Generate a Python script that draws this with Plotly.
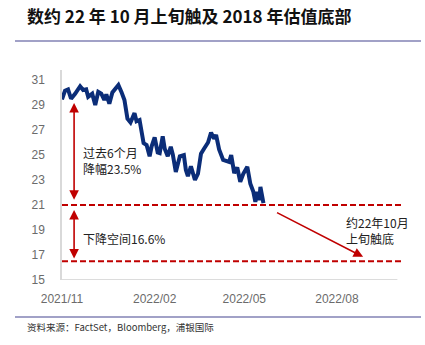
import plotly.graph_objects as go

# Valuation series (Nov 2021 - May 2022)
dates = [
    "2021-11-01", "2021-11-04", "2021-11-07", "2021-11-10", "2021-11-14", "2021-11-19",
    "2021-11-22", "2021-11-25", "2021-11-27", "2021-12-01", "2021-12-04", "2021-12-07",
    "2021-12-10", "2021-12-13", "2021-12-15", "2021-12-18", "2021-12-21", "2021-12-27",
    "2021-12-30", "2022-01-02", "2022-01-05", "2022-01-08", "2022-01-12", "2022-01-14",
    "2022-01-17", "2022-01-21", "2022-01-24", "2022-01-27", "2022-01-29", "2022-02-01",
    "2022-02-04", "2022-02-06", "2022-02-09", "2022-02-11", "2022-02-14", "2022-02-17",
    "2022-02-19", "2022-02-22", "2022-02-26", "2022-03-02", "2022-03-04", "2022-03-06",
    "2022-03-09", "2022-03-13", "2022-03-16", "2022-03-19", "2022-03-22", "2022-03-26",
    "2022-03-29", "2022-04-01", "2022-04-03", "2022-04-06", "2022-04-10", "2022-04-13",
    "2022-04-16", "2022-04-18", "2022-04-21", "2022-04-24", "2022-04-27", "2022-04-30",
    "2022-05-04", "2022-05-07", "2022-05-10", "2022-05-12", "2022-05-14", "2022-05-16",
    "2022-05-17", "2022-05-20",
]
values = [
    29.45, 30.15, 30.25, 29.5, 29.9, 30.5,
    30.2, 30.25, 29.65, 29.9, 29.0, 30.05,
    29.9, 29.4, 29.85, 29.1, 30.0, 30.6,
    30.05, 29.4, 27.9, 27.6, 28.35, 27.7,
    27.8, 25.95, 25.8, 24.9, 25.7, 26.4,
    25.2, 25.15, 26.5, 25.5, 24.9, 25.65,
    25.05, 23.65, 24.9, 25.0, 23.8, 23.3,
    24.1, 23.0, 23.5, 25.1, 25.5, 26.0,
    26.8, 26.3, 26.6, 25.45, 24.6, 24.5,
    24.45, 25.0, 23.55, 24.0, 22.85, 23.5,
    24.05, 22.7, 22.05, 21.25, 22.05, 21.4,
    22.45, 21.15,
]

# Reference levels: current level and 2018 valuation bottom
level_now = 21.0
level_2018_bottom = 16.5

tick_dates = ["2021-11-01", "2022-02-01", "2022-05-01", "2022-08-01"]
tick_labels = ["2021/11", "2022/02", "2022/05", "2022/08"]
y_ticks = [15, 17, 19, 21, 23, 25, 27, 29, 31]

RED = "#c00000"
NAVY = "#0b2d78"
CJK = "Noto Sans CJK SC"

fig = go.Figure()
fig.add_trace(go.Scatter(
    x=dates, y=values, mode="lines",
    line=dict(color=NAVY, width=4),
    hoverinfo="skip", showlegend=False,
))

shapes = []
for lvl in (level_now, level_2018_bottom):
    shapes.append(dict(type="line", xref="paper", yref="y", x0=0, x1=1, y0=lvl, y1=lvl,
                       line=dict(color=RED, width=1.8, dash="6px,3px")))
# baseline of the date axis
shapes.append(dict(type="line", xref="x", yref="y", x0="2021-11-01", x1="2022-09-30",
                   y0=15, y1=15, line=dict(color="#d0d0d0", width=1.5)))
# header and footer rules
for yy in (41, 317):
    shapes.append(dict(type="line", xref="paper", yref="paper",
                       x0=(15 - 62) / 341, x1=(421 - 62) / 341,
                       y0=(280 - yy) / 210, y1=(280 - yy) / 210,
                       line=dict(color="#8282b4", width=1.5)))

annotations = [
    # six-month drawdown arrow
    dict(x="2021-11-13", y=29.16, ax="2021-11-13", ay=21.3, xref="x", yref="y",
         axref="x", ayref="y", text="", showarrow=True, arrowhead=2, startarrowhead=2,
         arrowside="end+start", arrowcolor=RED, arrowwidth=1.6, arrowsize=1.2,
         startarrowsize=1.2),
    # remaining downside arrow
    dict(x="2021-11-13", y=20.6, ax="2021-11-13", ay=16.6, xref="x", yref="y",
         axref="x", ayref="y", text="", showarrow=True, arrowhead=2, startarrowhead=2,
         arrowside="end+start", arrowcolor=RED, arrowwidth=1.6, arrowsize=1.2,
         startarrowsize=1.2),
    # projected path to the bottom
    dict(x="2022-08-27", y=16.85, ax="2022-06-01", ay=20.45, xref="x", yref="y",
         axref="x", ayref="y", text="", showarrow=True, arrowhead=2,
         arrowcolor=RED, arrowwidth=1.6, arrowsize=1.2),
    dict(x="2021-11-20", y=24.55, xref="x", yref="y", xanchor="left", yanchor="middle",
         text="过去6个月<br>降幅23.5%", showarrow=False, align="left",
         font=dict(family=CJK, size=12, color="#222222")),
    dict(x="2021-11-20", y=18.3, xref="x", yref="y", xanchor="left", yanchor="middle",
         text="下降空间16.6%", showarrow=False, align="left",
         font=dict(family=CJK, size=12, color="#222222")),
    dict(x="2022-08-08", y=18.95, xref="x", yref="y", xanchor="left", yanchor="middle",
         text="约22年10月<br>上旬触底", showarrow=False, align="left",
         font=dict(family=CJK, size=12, color="#222222")),
    # title
    dict(x=25, y=15, xref="paper", yref="paper", text="<b>数约 22 年 10 月上旬触及 2018 年估值底部</b>",
         showarrow=False, xanchor="left", yanchor="middle",
         font=dict(family=CJK, size=17, color="#111111")),
    # source
    dict(x=25, y=327, xref="paper", yref="paper", text="资料来源：FactSet，Bloomberg，浦银国际",
         showarrow=False, xanchor="left", yanchor="middle",
         font=dict(family=CJK, size=9.5, color="#333333")),
]

# convert pixel positions of title / source to paper coordinates
for a in annotations[-2:]:
    a["x"] = (a["x"] - 62) / 341
    a["y"] = (280 - a["y"]) / 210

fig.update_layout(
    width=425, height=345,
    margin=dict(l=62, r=22, t=70, b=65),
    paper_bgcolor="white", plot_bgcolor="white",
    shapes=shapes, annotations=annotations,
    xaxis=dict(
        type="date", range=["2021-11-01", "2022-10-05 14:00"],
        tickvals=tick_dates, ticktext=tick_labels,
        showgrid=False, zeroline=False, showline=False, ticks="",
        ticklabelstandoff=10,
        tickfont=dict(family="Liberation Sans", size=12, color="#6b6b6b"),
    ),
    yaxis=dict(
        range=[15, 31.8], tickvals=y_ticks,
        showgrid=False, zeroline=False, showline=True, linecolor="#d9d9d9", linewidth=1.5,
        ticks="", ticklabelstandoff=13,
        tickfont=dict(family="Liberation Sans", size=12, color="#6b6b6b"),
    ),
)

fig.write_html("out.html")
